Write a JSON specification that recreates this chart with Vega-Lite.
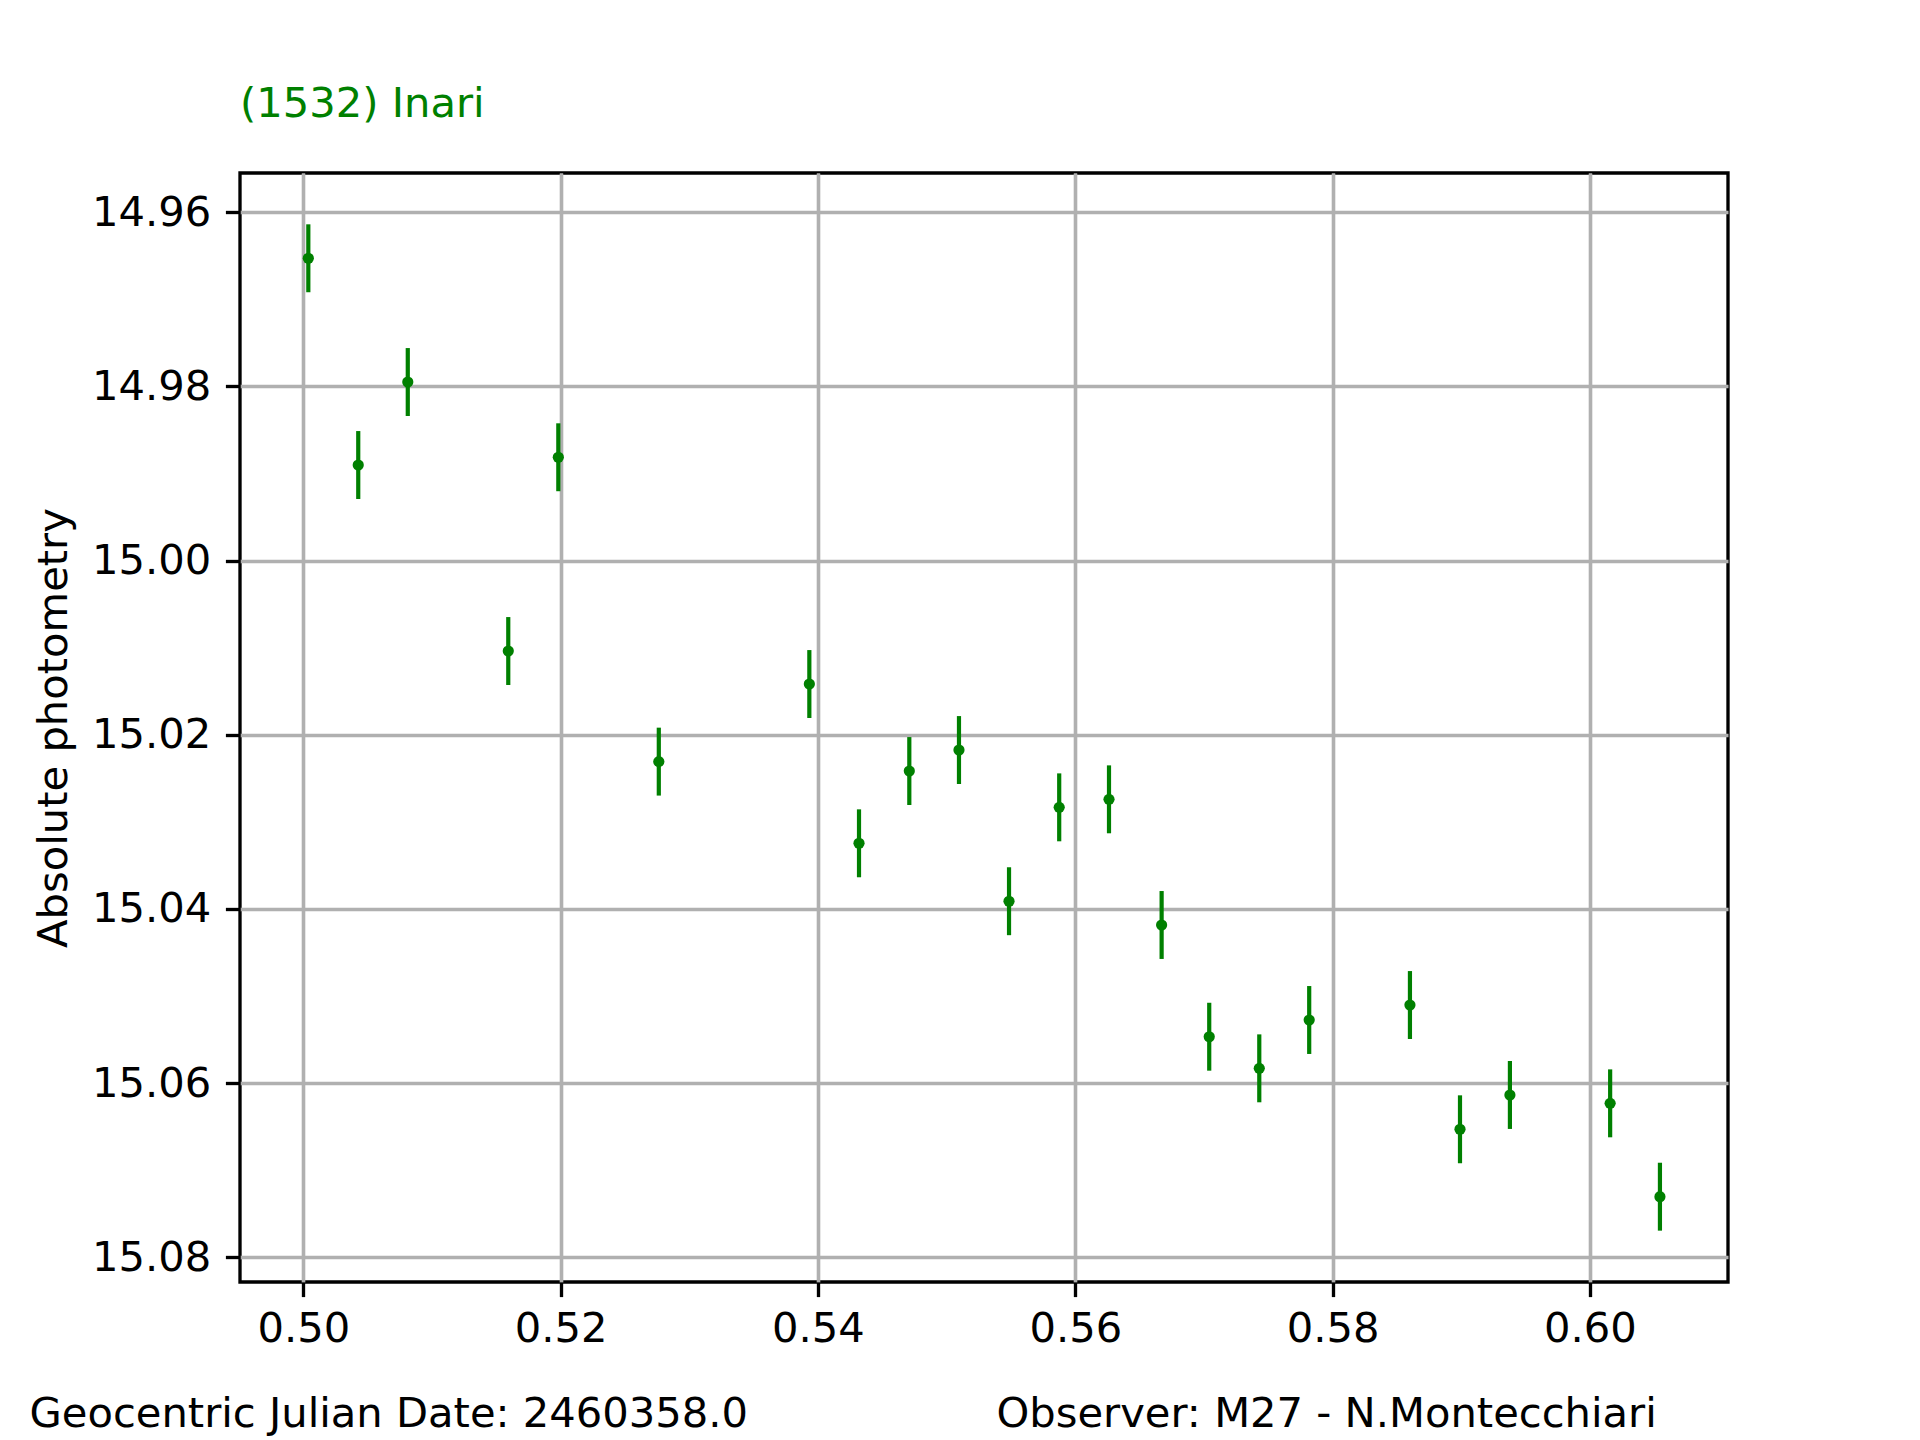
{
  "$schema": "https://vega.github.io/schema/vega-lite/v6.json",
  "width": 1488,
  "height": 1109,
  "autosize": {"type": "none"},
  "padding": {"left": 240, "top": 173, "right": 192, "bottom": 158},
  "background": "white",
  "title": {
    "text": "(1532) Inari",
    "anchor": "start",
    "frame": "group",
    "color": "#008000",
    "font": "DejaVu Sans",
    "fontSize": 41.67,
    "fontWeight": "normal",
    "baseline": "alphabetic",
    "offset": 14
  },
  "data": {
    "values": [
      {"t": 0.50039, "mag": 14.96528, "err": 0.0039},
      {"t": 0.50427, "mag": 14.98902, "err": 0.0039},
      {"t": 0.50812, "mag": 14.97949, "err": 0.0039},
      {"t": 0.51593, "mag": 15.01038, "err": 0.0039},
      {"t": 0.51982, "mag": 14.98813, "err": 0.0039},
      {"t": 0.52763, "mag": 15.02308, "err": 0.0039},
      {"t": 0.53933, "mag": 15.01417, "err": 0.0039},
      {"t": 0.54319, "mag": 15.03246, "err": 0.0039},
      {"t": 0.54710, "mag": 15.02416, "err": 0.0039},
      {"t": 0.55096, "mag": 15.02175, "err": 0.0039},
      {"t": 0.55485, "mag": 15.03911, "err": 0.0039},
      {"t": 0.55875, "mag": 15.02833, "err": 0.0039},
      {"t": 0.56262, "mag": 15.02741, "err": 0.0039},
      {"t": 0.56671, "mag": 15.04184, "err": 0.0039},
      {"t": 0.57041, "mag": 15.05467, "err": 0.0039},
      {"t": 0.57430, "mag": 15.05830, "err": 0.0039},
      {"t": 0.57818, "mag": 15.05275, "err": 0.0039},
      {"t": 0.58601, "mag": 15.05103, "err": 0.0039},
      {"t": 0.58990, "mag": 15.06530, "err": 0.0039},
      {"t": 0.59378, "mag": 15.06136, "err": 0.0039},
      {"t": 0.60157, "mag": 15.06232, "err": 0.0039},
      {"t": 0.60544, "mag": 15.07304, "err": 0.0039}
    ]
  },
  "resolve": {"axis": {"x": "independent"}},
  "layer": [
    {
      "mark": {"type": "errorbar", "color": "#008000", "thickness": 4.2},
      "encoding": {
        "x": {
          "field": "t",
          "type": "quantitative",
          "scale": {"domain": [0.49508, 0.61073], "nice": false, "zero": false},
          "axis": {
            "orient": "bottom",
            "values": [0.5, 0.52, 0.54, 0.56, 0.58, 0.6],
            "labels": false,
            "ticks": false,
            "grid": true,
            "domain": false,
            "title": "Observer: M27 - N.Montecchiari",
            "titleX": 756,
            "titleY": 144,
            "titleAlign": "left",
            "titleAnchor": "start",
            "titleBaseline": "alphabetic",
            "titleAngle": 0
          }
        },
        "y": {
          "field": "mag",
          "type": "quantitative",
          "scale": {"domain": [14.955487, 15.082836], "reverse": true, "nice": false, "zero": false},
          "axis": {
            "grid": true,
            "ticks": true,
            "values": [14.96, 14.98, 15.0, 15.02, 15.04, 15.06, 15.08],
            "format": ".2f",
            "labelPadding": 14.6,
            "title": "Absolute photometry",
            "titleX": -174,
            "titleBaseline": "alphabetic",
            "titleAngle": 270
          }
        },
        "yError": {"field": "err"}
      }
    },
    {
      "mark": {"type": "point", "filled": true, "color": "#008000", "opacity": 1, "size": 125},
      "encoding": {
        "x": {
          "field": "t",
          "type": "quantitative",
          "scale": {"domain": [0.49508, 0.61073], "nice": false, "zero": false},
          "axis": {
            "orient": "bottom",
            "grid": true,
            "ticks": true,
            "values": [0.5, 0.52, 0.54, 0.56, 0.58, 0.6],
            "format": ".2f",
            "labelBaseline": "alphabetic",
            "labelPadding": 45,
            "title": "Geocentric Julian Date: 2460358.0",
            "titleX": -211,
            "titleY": 144,
            "titleAlign": "left",
            "titleAnchor": "start",
            "titleBaseline": "alphabetic",
            "titleAngle": 0
          }
        },
        "y": {
          "field": "mag",
          "type": "quantitative",
          "scale": {"domain": [14.955487, 15.082836], "reverse": true, "nice": false, "zero": false},
          "axis": {
            "grid": true,
            "ticks": true,
            "values": [14.96, 14.98, 15.0, 15.02, 15.04, 15.06, 15.08],
            "format": ".2f",
            "labelPadding": 14.6,
            "title": "Absolute photometry",
            "titleX": -174,
            "titleBaseline": "alphabetic",
            "titleAngle": 270
          }
        }
      }
    }
  ],
  "config": {
    "font": "DejaVu Sans",
    "view": {"stroke": "black", "strokeWidth": 3.33, "fill": "white"},
    "axis": {
      "domain": false,
      "labelFont": "DejaVu Sans",
      "labelFontSize": 41.67,
      "labelColor": "black",
      "labelFlush": false,
      "labelOverlap": false,
      "tickColor": "black",
      "tickWidth": 3.33,
      "tickSize": 14.6,
      "gridColor": "#b0b0b0",
      "gridWidth": 3.33,
      "titleFont": "DejaVu Sans",
      "titleFontSize": 41.67,
      "titleFontWeight": "normal",
      "titleColor": "black"
    }
  }
}
